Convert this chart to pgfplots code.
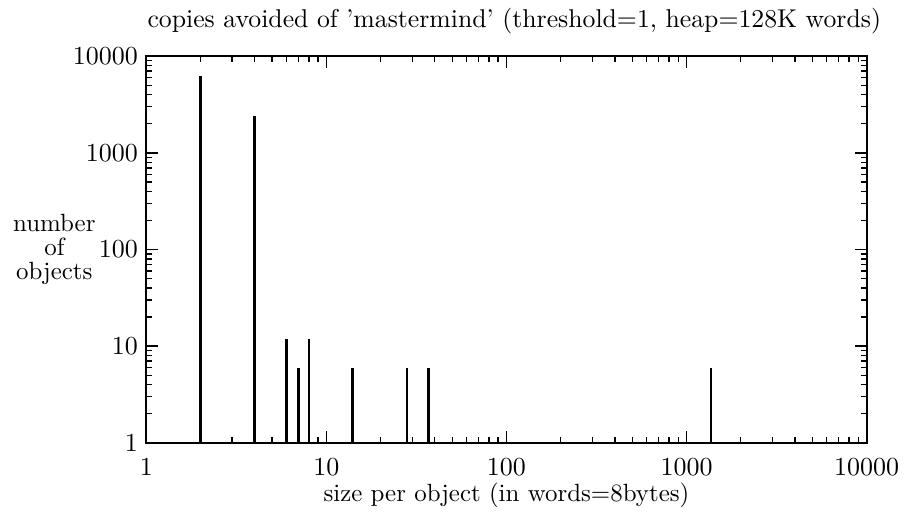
\documentclass[border=0pt]{standalone}
\usepackage{pgfplots}
\pgfplotsset{compat=1.18}
\begin{document}
\begin{tikzpicture}[font=\fontsize{10.5}{12.6}\selectfont]
\begin{axis}[
  name=ax,
  scale only axis,
  width=303.75pt, height=163pt,
  xmode=log, ymode=log,
  xmin=1, xmax=10000, ymin=1, ymax=10000,
  log ticks with fixed point,
  /pgf/number format/1000 sep={},
  xtick={1,10,100,1000,10000},
  ytick={1,10,100,1000,10000},
  tick align=inside,
  major tick length=5pt,
  minor tick length=2.5pt,
  axis line style={line width=0.9pt},
  every tick/.style={black, line width=0.6pt},
  tick label style={font=\fontsize{10.5}{12.6}\selectfont},
  xticklabel style={yshift=-3pt},
  title style={font=\fontsize{10.85}{13}\selectfont, xshift=3.3pt},
  xlabel style={font=\fontsize{10.5}{12.6}\selectfont, yshift=3.5pt},
  title={copies avoided of 'mastermind' (threshold=1, heap=128K words)},
  xlabel={size per object (in words=8bytes)},
  ylabel={number\\of\\objects},
  ylabel style={at={(rel axis cs:0,0.5)}, anchor=center, rotate=-90, xshift=-38.75pt, align=center, font={\fontsize{10.5}{10}\selectfont}},
]
\addplot[ycomb, black, line width=1pt, mark=none] coordinates {
(2,6200) (4,2400) (6,12) (7,6) (8,12) (14,6) (28,6) (37,6) (1370,6)
};
\end{axis}
\path ([shift={(-61.67pt,-32.08pt)}]ax.south west) rectangle ([shift={(12.5pt,21.67pt)}]ax.north east);
\end{tikzpicture}
\end{document}
